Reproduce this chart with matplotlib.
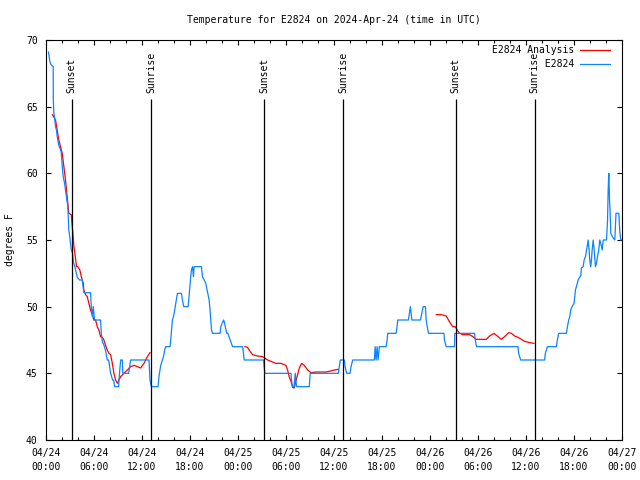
import matplotlib
matplotlib.use("Agg")
import matplotlib.pyplot as plt
from matplotlib.ticker import MultipleLocator

plt.rcParams['font.family'] = ['DejaVu Sans Mono']
plt.rcParams['font.size'] = 7

# hours since 2024-04-24 00:00 UTC
obs_hours = [0.31, 0.40, 0.48, 0.56, 0.69, 0.90, 0.91, 0.98, 1.06, 1.19, 1.31, 1.40, 1.60, 1.73, 1.90,
             2.03, 2.15, 2.32, 2.44, 2.57, 2.73, 2.85, 2.98, 3.16, 3.32, 3.44, 3.61, 3.91, 4.19, 4.53,
             4.73, 5.57, 5.66, 5.79, 5.91, 6.07, 6.82, 6.91, 7.07, 7.20, 7.45, 7.66, 7.83, 8.08, 8.33,
             8.45, 8.58, 9.08, 9.12, 9.33, 9.54, 9.60, 10.33, 10.58, 12.87, 13.00, 13.17, 14.00, 14.12,
             14.25, 14.34, 14.55, 14.68, 14.84, 14.96, 15.50, 15.59, 15.80, 15.93, 16.09, 16.22, 16.43,
             16.93, 17.05, 17.22, 17.76, 17.88, 18.09, 18.18, 18.31, 18.43, 18.51, 18.72, 19.43, 19.56,
             19.76, 19.97, 20.39, 20.51, 20.69, 20.81, 21.76, 21.85, 22.19, 22.26, 22.60, 22.73, 23.32,
             24.57, 24.69, 24.77, 27.20, 27.27, 27.36, 30.62, 30.70, 30.83, 31.00, 31.16, 31.24, 31.33,
             32.91, 33.03, 36.54, 36.66, 36.79, 37.29, 37.38, 37.59, 38.00, 38.13, 38.34, 41.05, 41.14,
             41.26, 41.39, 41.51, 41.67, 42.51, 42.64, 42.72, 43.76, 43.88, 43.97, 45.30, 45.43, 45.55,
             45.64, 45.73, 46.81, 46.98, 47.15, 47.43, 47.52, 47.65, 47.81, 49.74, 49.81, 50.03, 51.06,
             51.10, 53.57, 53.66, 53.82, 59.00, 59.08, 59.33, 62.33, 62.42, 62.67, 63.80, 63.92, 64.09,
             65.05, 65.18, 65.34, 65.47, 65.59, 65.76, 66.01, 66.09, 66.18, 66.30, 66.52, 66.59, 66.84,
             66.93, 67.14, 67.27, 67.43, 67.56, 67.77, 67.89, 67.97, 68.09, 68.18, 68.27, 68.40, 68.52,
             68.68, 68.81, 68.93, 69.10, 69.22, 69.35, 69.52, 69.65, 70.06, 70.19, 70.27, 70.35, 70.44,
             70.52, 70.60, 70.85, 71.10, 71.25, 71.60, 71.73, 71.85, 72.00]
obs_temp = [69.1, 68.7, 68.4, 68.25, 68.1, 68.0, 65.6, 64.5, 64.25, 63.5, 63.25, 62.75, 62.1, 61.9, 61.6,
            60.5, 59.75, 59.25, 58.75, 58.25, 57.5, 55.75, 55.2, 54.25, 54.0, 53.3, 53.0, 52.2, 52.0, 52.0,
            51.05, 51.05, 50.0, 49.25, 50.0, 49.0, 49.0, 48.0, 47.3, 47.2, 46.7, 46.0, 46.0, 45.0, 44.5,
            44.5, 44.0, 44.0, 44.5, 46.0, 46.0, 45.0, 45.0, 46.0, 46.0, 44.5, 44.0, 44.0, 44.75,
            45.25, 45.6, 46.0, 46.25, 46.75, 47.0, 47.0, 47.5, 49.0, 49.25, 49.75, 50.25, 51.0,
            51.0, 50.5, 50.0, 50.0, 50.75, 52.25, 52.75, 53.0, 52.25, 53.0, 53.0, 53.0, 52.25,
            52.0, 51.75, 50.5, 49.75, 48.25, 48.0, 48.0, 48.5, 49.0, 48.9, 48.0, 48.0, 47.0,
            47.0, 46.5, 46.0, 46.0, 45.5, 45.0, 45.0, 44.4, 44.0, 44.0, 45.0, 44.4, 44.0,
            44.0, 45.0, 45.0, 45.5, 46.0, 46.0, 45.5, 45.0, 45.0, 45.5, 46.0, 46.0, 47.0,
            46.0, 47.0, 46.0, 47.0, 47.0, 47.5, 48.0, 48.0, 48.5, 49.0, 49.0, 49.5, 50.0,
            49.5, 49.0, 49.0, 49.5, 50.0, 50.0, 49.0, 48.5, 48.0, 48.0, 47.5, 47.0, 47.0,
            48.0, 48.0, 47.5, 47.0, 47.0, 46.5, 46.0, 46.0, 46.5, 47.0, 47.0, 47.5, 48.0,
            48.0, 48.5, 49.0, 49.25, 49.75, 50.0, 50.25, 50.75, 51.25, 51.5, 52.0, 52.1, 52.3,
            52.9, 53.0, 53.5, 53.75, 54.2, 55.0, 54.25, 53.5, 53.0, 53.5, 54.25, 55.0, 54.25,
            53.0, 53.25, 53.75, 54.25, 55.0, 54.75, 54.25, 55.0, 55.0, 56.4, 58.75, 60.0, 58.0,
            57.0, 55.5, 55.2, 55.0, 57.0, 57.0, 55.6, 55.0, 55.0]

# analysis runs (three separate pieces)
ana1_hours = [0.81, 1.19, 1.60, 2.03, 2.44, 2.65, 2.85, 3.16, 3.28, 3.36, 3.49, 3.61, 3.82, 3.98, 4.23,
              4.41, 4.66, 4.73, 4.95, 5.16, 5.36, 5.57, 5.79, 5.99, 6.20, 6.41, 6.61, 6.82, 7.04, 7.24,
              7.45, 7.66, 7.86, 8.08, 8.29, 8.49, 8.70, 8.92, 9.12, 9.33, 9.74, 10.17, 10.58, 10.99,
              11.42, 11.83, 12.25, 12.67, 13.00]
ana1_temp = [64.4, 64.0, 62.5, 61.5, 59.5, 58.2, 57.0, 56.9, 56.0, 55.5, 54.5, 54.0, 53.0, 53.0, 52.75,
             52.25, 51.75, 51.25, 50.9, 50.75, 50.25, 49.75, 49.4, 49.0, 49.0, 48.5, 48.25, 47.75, 47.7, 47.5,
             47.1, 46.75, 46.5, 46.4, 45.75, 45.0, 44.5, 44.25, 44.5, 44.75, 45.0, 45.25, 45.5, 45.6,
             45.5, 45.4, 45.75, 46.25, 46.55]
ana2_hours = [24.86, 25.19, 25.39, 25.82, 26.45, 27.07, 27.70, 28.11, 28.73, 29.36, 29.99, 30.20, 30.40,
              30.62, 30.83, 31.03, 31.24, 31.45, 31.66, 31.96, 32.28, 32.71, 33.12, 33.75, 34.37, 35.00,
              35.41, 36.04, 36.54]
ana2_temp = [47.0, 46.95, 46.75, 46.4, 46.3, 46.25, 46.0, 45.9, 45.75, 45.75, 45.6, 45.25, 44.75,
             44.4, 43.95, 43.9, 44.4, 44.9, 45.4, 45.75, 45.6, 45.25, 45.05, 45.1, 45.1, 45.1,
             45.15, 45.25, 45.3]
ana3_hours = [48.78, 49.41, 50.03, 50.31, 50.56, 50.86, 51.15, 51.40, 51.69, 52.12, 52.94, 53.37, 53.78,
              54.41, 55.03, 55.45, 56.00, 56.50, 56.91, 57.33, 57.83, 58.17, 58.58, 59.00, 59.42, 59.83,
              60.46, 61.00]
ana3_temp = [49.4, 49.4, 49.3, 49.0, 48.75, 48.5, 48.5, 48.25, 48.0, 47.9, 47.9, 47.75, 47.55,
             47.55, 47.55, 47.8, 48.0, 47.75, 47.55, 47.75, 48.05, 48.0, 47.8, 47.7, 47.55, 47.4,
             47.3, 47.25]

sun_hours = [3.23, 13.12, 27.27, 37.15, 51.22, 61.08]
sun_names = ['Sunset', 'Sunrise', 'Sunset', 'Sunrise', 'Sunset', 'Sunrise']

tick_hours = list(range(0, 73, 6))
tick_labels = ['04/24\n00:00', '04/24\n06:00', '04/24\n12:00', '04/24\n18:00',
               '04/25\n00:00', '04/25\n06:00', '04/25\n12:00', '04/25\n18:00',
               '04/26\n00:00', '04/26\n06:00', '04/26\n12:00', '04/26\n18:00',
               '04/27\n00:00']

red = '#ff0000'
blue = '#0a84ff'

fig = plt.figure(figsize=(6.4, 4.8), dpi=100)
ax = fig.add_axes([46/640, 40/480, 576/640, 400/480])

ax.plot(ana1_hours, ana1_temp, color=red, lw=0.9, label='E2824 Analysis')
ax.plot(ana2_hours, ana2_temp, color=red, lw=0.9)
ax.plot(ana3_hours, ana3_temp, color=red, lw=0.9)
ax.plot(obs_hours, obs_temp, color=blue, lw=0.9, label='         E2824')

ax.vlines(sun_hours, 40, 65.6, color='black', lw=0.9)
for h, name in zip(sun_hours, sun_names):
    ax.text(h, 66.0, name, rotation=90, ha='center', va='bottom')

ax.set_xlim(0, 72)
ax.set_ylim(40, 70)
ax.set_xticks(tick_hours)
ax.set_xticklabels(tick_labels, linespacing=1.5)
ax.xaxis.set_minor_locator(MultipleLocator(2))
ax.set_yticks(range(40, 71, 5))
ax.tick_params(which='both', direction='in', top=True, right=True, width=0.8)
ax.tick_params(which='major', length=3.6)
ax.tick_params(which='minor', length=2)
ax.tick_params(axis='x', pad=6)
ax.tick_params(axis='y', pad=6)
for s in ax.spines.values():
    s.set_linewidth(0.8)

ax.set_title('Temperature for E2824 on 2024-Apr-24 (time in UTC)', pad=12, fontsize=7)
ax.set_ylabel('degrees F')
ax.yaxis.set_label_coords(-0.054, 0.5)

ax.legend(loc='upper right', bbox_to_anchor=(1 - 12/576, 1 - 5/400), frameon=False,
          markerfirst=False, handlelength=3.1, handletextpad=0.6, borderpad=0,
          borderaxespad=0, labelspacing=0.45)

fig.savefig('out.png', dpi=100)
